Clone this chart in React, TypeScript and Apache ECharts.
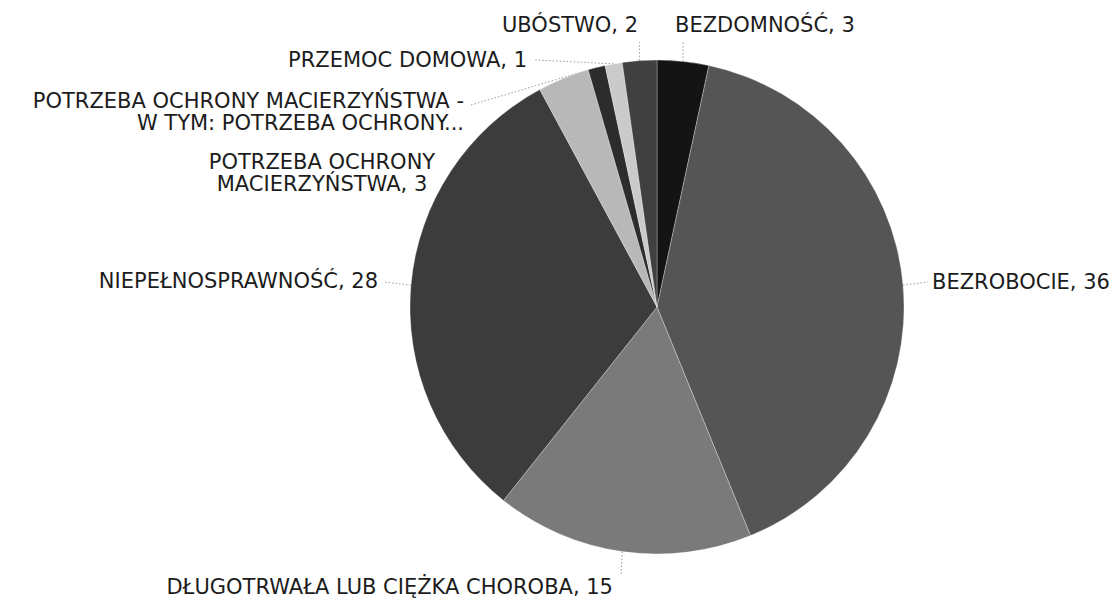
import React, { useEffect, useRef } from 'react';
import * as echarts from 'echarts';

// ---- data ----
const categories = [
  'BEZDOMNOŚĆ',
  'BEZROBOCIE',
  'DŁUGOTRWAŁA LUB CIĘŻKA CHOROBA',
  'NIEPEŁNOSPRAWNOŚĆ',
  'POTRZEBA OCHRONY MACIERZYŃSTWA',
  'POTRZEBA OCHRONY MACIERZYŃSTWA - W TYM: POTRZEBA OCHRONY...',
  'PRZEMOC DOMOWA',
  'UBÓSTWO',
];
const values = [3, 36, 15, 28, 3, 1, 1, 2];
// displayed label text (line breaks as in the reference); showValue says if ", value" is appended
const labelNames = [
  'BEZDOMNOŚĆ',
  'BEZROBOCIE',
  'DŁUGOTRWAŁA LUB CIĘŻKA CHOROBA',
  'NIEPEŁNOSPRAWNOŚĆ',
  'POTRZEBA OCHRONY\nMACIERZYŃSTWA',
  'POTRZEBA OCHRONY MACIERZYŃSTWA -\nW TYM: POTRZEBA OCHRONY...',
  'PRZEMOC DOMOWA',
  'UBÓSTWO',
];
const showValue = [true, true, true, true, true, false, true, true];

// ---- styles / layout ----
const sliceColors = ['#141414', '#555555', '#7a7a7a', '#3c3c3c', '#b8b8b8', '#2c2c2c', '#cacaca', '#404040'];
const labelLayoutCfg: { x: number; y: number; align: string; ex: number | null; ey: number | null }[] = [
  { x: 675, y: 25, align: 'left', ex: null, ey: 42 },
  { x: 932, y: 282, align: 'left', ex: 928, ey: 282 },
  { x: 613, y: 587, align: 'right', ex: 621, ey: 575 },
  { x: 378, y: 281, align: 'right', ex: 384, ey: 282 },
  { x: 322, y: 173, align: 'center', ex: 466, ey: 163 },
  { x: 464, y: 112, align: 'right', ex: 471, ey: 105 },
  { x: 527, y: 60, align: 'right', ex: 535, ey: 60 },
  { x: 570, y: 25, align: 'center', ex: null, ey: 42 },
];

export default function App() {
  const ref = useRef<HTMLDivElement>(null);
  useEffect(() => {
    const chart = echarts.init(ref.current!, null, { renderer: 'svg' });
    chart.setOption({
      animation: false,
      backgroundColor: '#ffffff',
      series: [
        {
          type: 'pie',
          center: [657, 307],
          radius: 247,
          startAngle: 90,
          clockwise: true,
          avoidLabelOverlap: false,
          itemStyle: { borderColor: '#ffffff', borderWidth: 0.3 },
          label: {
            show: true,
            position: 'outer',
            alignTo: 'none',
            fontFamily: 'DejaVu Sans',
            fontSize: 21,
            lineHeight: 22,
            color: '#1c1c1c',
            formatter: (p: any) =>
              labelNames[p.dataIndex] + (showValue[p.dataIndex] ? ', ' + p.value : ''),
          },
          labelLine: {
            show: true,
            length: 10,
            length2: 10,
            lineStyle: { color: '#9a9a9a', width: 1, type: [1.5, 2] },
          },
          labelLayout: (params: any) => {
            const c = labelLayoutCfg[params.dataIndex];
            const pts = params.labelLinePoints;
            const p0 = pts ? pts[0] : [c.x, c.y];
            const end = [c.ex == null ? p0[0] : c.ex, c.ey == null ? p0[1] : c.ey];
            return {
              x: c.x,
              y: c.y,
              align: c.align,
              verticalAlign: 'middle',
              labelLinePoints: [p0, end, end],
            };
          },
          data: categories.map((name, i) => ({
            name,
            value: values[i],
            itemStyle: { color: sliceColors[i] },
          })),
        },
      ],
    });
    return () => chart.dispose();
  }, []);
  return (
    <div
      ref={ref}
      style={{ position: 'fixed', left: 0, top: 0, width: 1117, height: 600, background: '#fff' }}
    />
  );
}
